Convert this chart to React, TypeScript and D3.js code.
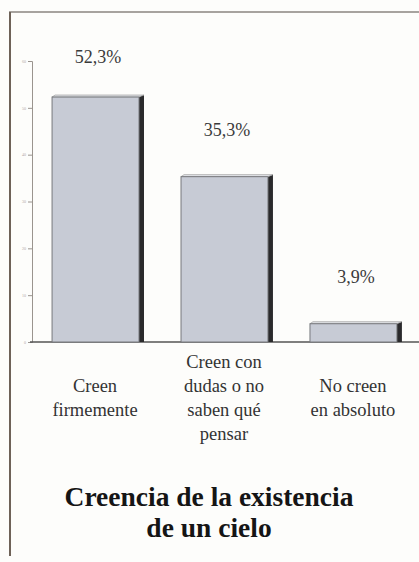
import { useEffect, useRef } from "react";
import * as d3 from "d3";

const categories = ["Creen firmemente", "Creen con dudas o no saben qué pensar", "No creen en absoluto"];
const categoryLines = [
  ["Creen", "firmemente"],
  ["Creen con", "dudas o no", "saben qué", "pensar"],
  ["No creen", "en absoluto"],
];
const values = [52.3, 35.3, 3.9];
const valueLabels = ["52,3%", "35,3%", "3,9%"];
const yTicks = [0, 10, 20, 30, 40, 50, 60];
const titleLines = ["Creencia de la existencia", "de un cielo"];

export default function App() {
  const svgRef = useRef<SVGSVGElement | null>(null);

  useEffect(() => {
    const width = 419;
    const height = 562;
    const svg = d3.select(svgRef.current).attr("width", width).attr("height", height);
    svg.selectAll("*").remove();

    const font = "'Liberation Serif', 'Times New Roman', serif";

    svg.append("rect").attr("width", width).attr("height", height).attr("fill", "#fdfdfb");

    // frame
    svg.append("line").attr("x1", 9).attr("x2", width).attr("y1", 12).attr("y2", 12)
      .attr("stroke", "#8a8580").attr("stroke-width", 1.5);
    svg.append("line").attr("x1", 10).attr("x2", 10).attr("y1", 12).attr("y2", 556)
      .attr("stroke", "#6e6258").attr("stroke-width", 2);

    const x = d3.scaleBand().domain(categories).range([32, 419])
      .paddingInner(0.287).paddingOuter(0.144).align(0.54);
    const y = d3.scaleLinear().domain([0, 60]).range([342, 61]);

    // y axis
    const yAxis = svg.append("g").attr("transform", "translate(32,0)")
      .call(d3.axisLeft(y).tickValues(yTicks).tickSize(4).tickPadding(2));
    yAxis.select(".domain").attr("stroke", "#9a948e");
    yAxis.selectAll(".tick line").attr("stroke", "#9a948e");
    yAxis.selectAll(".tick text").attr("font-size", 4).attr("fill", "#b0aaa4").attr("font-family", font);

    // baseline
    svg.append("line").attr("x1", 30).attr("x2", width).attr("y1", y(0)).attr("y2", y(0))
      .attr("stroke", "#555").attr("stroke-width", 1.5);

    const depth = 5;
    const bw = x.bandwidth() - depth;

    const bars = svg.append("g").selectAll("g").data(values).join("g");
    // dark side
    bars.append("polygon")
      .attr("points", (d, i) => {
        const x0 = x(categories[i])! + bw;
        return `${x0},${y(d)} ${x0 + depth},${y(d) - 2} ${x0 + depth},${y(0)} ${x0},${y(0)}`;
      })
      .attr("fill", "#2a2a2c");
    // top
    bars.append("polygon")
      .attr("points", (d, i) => {
        const x0 = x(categories[i])!;
        return `${x0},${y(d)} ${x0 + 3},${y(d) - 2} ${x0 + bw + depth},${y(d) - 2} ${x0 + bw},${y(d)}`;
      })
      .attr("fill", "#e6e8ec").attr("stroke", "#888").attr("stroke-width", 0.6);
    // front
    bars.append("rect")
      .attr("x", (d, i) => x(categories[i])!)
      .attr("y", (d) => y(d))
      .attr("width", bw)
      .attr("height", (d) => y(0) - y(d))
      .attr("fill", "#c7cbd5")
      .attr("stroke", "#77787c")
      .attr("stroke-width", 1);

    // value labels
    svg.append("g").selectAll("text").data(values).join("text")
      .attr("x", (d, i) => x(categories[i])! + x.bandwidth() / 2)
      .attr("y", (d) => Math.max(y(d) - 41, 63))
      .attr("text-anchor", "middle")
      .attr("font-family", font)
      .attr("font-size", 18)
      .attr("fill", "#3a3a3a")
      .text((d, i) => valueLabels[i]);

    // category labels
    const lh = 24;
    categoryLines.forEach((lines, i) => {
      const cx = x(categories[i])! + x.bandwidth() / 2 - 3;
      const top = 404 - ((lines.length - 1) * lh) / 2;
      svg.append("text")
        .attr("x", cx)
        .attr("text-anchor", "middle")
        .attr("font-family", font)
        .attr("font-size", 18.5)
        .attr("fill", "#333")
        .selectAll("tspan").data(lines).join("tspan")
        .attr("x", cx)
        .attr("y", (d, j) => top + j * lh)
        .text((d) => d);
    });

    // title
    svg.append("text")
      .attr("text-anchor", "middle")
      .attr("font-family", font)
      .attr("font-size", 27.5)
      .attr("font-weight", "bold")
      .attr("fill", "#151515")
      .selectAll("tspan").data(titleLines).join("tspan")
      .attr("x", 209)
      .attr("y", (d, j) => 506 + j * 31)
      .text((d) => d);
  }, []);

  return (
    <div style={{ position: "absolute", left: 0, top: 0 }}>
      <svg ref={svgRef} style={{ display: "block" }}></svg>
    </div>
  );
}
